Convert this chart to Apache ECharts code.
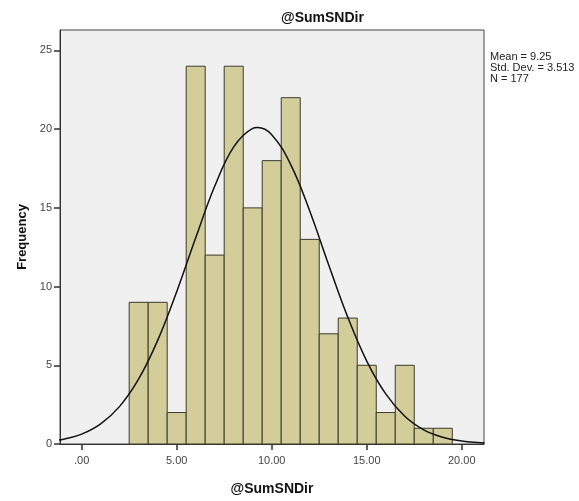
<!DOCTYPE html>
<html>
<head>
<meta charset="utf-8">
<script src="https://cdn.jsdelivr.net/npm/echarts@6/dist/echarts.min.js"></script>
<style>
  html, body { margin: 0; padding: 0; background: #fff; }
  #chart { width: 579px; height: 501px; }
</style>
</head>
<body>
<div id="chart"></div>
<script>
// histogram bins (centres) and counts
const binCenters = [3, 4, 5, 6, 7, 8, 9, 10, 11, 12, 13, 14, 15, 16, 17, 18, 19];
const counts = [9, 9, 2, 24, 12, 24, 15, 18, 22, 13, 7, 8, 5, 2, 5, 1, 1];
const binWidth = 1;

// normal curve
const curveX = [-1.2, -1, 0, 1, 2, 3, 4, 5, 6, 7, 8, 9, 9.25, 10, 11, 12, 13, 14, 15, 16, 17, 18, 19, 20, 21, 21.2];
const curveY = [0.25, 0.29, 0.63, 1.28, 2.39, 4.13, 6.58, 9.67, 13.1, 16.37, 18.87, 20.05, 20.1, 19.65, 17.75, 14.8, 11.37, 8.06, 5.27, 3.18, 1.76, 0.9, 0.43, 0.19, 0.08, 0.06];

const xTicks = [0, 5, 10, 15, 20];
const yTicks = [0, 5, 10, 15, 20, 25];
const statsLines = ["Mean = 9.25", "Std. Dev. = 3.513", "N = 177"];

const chart = echarts.init(document.getElementById("chart"));

const fontFamily = "'Liberation Sans', Arial, sans-serif";

chart.setOption({
  animation: false,
  textStyle: { fontFamily: fontFamily },
  title: {
    text: "@SumSNDir",
    left: 276,
    top: 6,
    textStyle: { fontSize: 14, fontWeight: "bold", color: "#111", fontFamily: fontFamily },
  },
  grid: {
    left: 60,
    right: 95,
    top: 30,
    bottom: 53,
    show: true,
    backgroundColor: "#f0f0f0",
    borderColor: "#444",
    borderWidth: 1,
  },
  graphic: [
    {
      type: "text",
      left: 490,
      top: 51,
      style: {
        text: statsLines.join("\n"),
        font: "11px " + fontFamily,
        lineHeight: 11,
        fill: "#222",
      },
    },
  ],
  xAxis: {
    type: "value",
    min: -1.14,
    max: 21.17,
    name: "@SumSNDir",
    nameLocation: "middle",
    nameGap: 38,
    nameTextStyle: { fontSize: 14, fontWeight: "bold", color: "#111" },
    splitLine: { show: false },
    axisLine: { onZero: false, lineStyle: { color: "#333" } },
    axisTick: {
      customValues: xTicks,
      length: 6,
      lineStyle: { color: "#333", width: 1.5 },
    },
    axisLabel: {
      customValues: xTicks,
      fontSize: 11,
      color: "#444",
      margin: 11,
      formatter: function (v) {
        return v === 0 ? ".00" : v.toFixed(2);
      },
    },
  },
  yAxis: {
    type: "value",
    min: 0,
    max: 26.3,
    interval: 5,
    name: "Frequency",
    nameLocation: "middle",
    nameGap: 31,
    nameRotate: 90,
    nameTextStyle: { fontSize: 13, fontWeight: "bold", color: "#111" },
    splitLine: { show: false },
    axisLine: { show: true, onZero: false, lineStyle: { color: "#333" } },
    axisTick: {
      show: true,
      customValues: yTicks,
      length: 6,
      lineStyle: { color: "#333", width: 1.5 },
    },
    axisLabel: { customValues: yTicks, fontSize: 11, color: "#444", margin: 8 },
  },
  series: [
    {
      type: "custom",
      data: binCenters.map((c, i) => [c, counts[i]]),
      renderItem: function (params, api) {
        const c = api.value(0);
        const topLeft = api.coord([c - binWidth / 2, api.value(1)]);
        const bottomRight = api.coord([c + binWidth / 2, 0]);
        return {
          type: "rect",
          shape: {
            x: topLeft[0],
            y: topLeft[1],
            width: bottomRight[0] - topLeft[0],
            height: bottomRight[1] - topLeft[1],
          },
          style: {
            fill: "#d3ce99",
            stroke: "#3b3a2c",
            lineWidth: 1,
          },
        };
      },
      z: 2,
    },
    {
      type: "line",
      data: curveX.map((x, i) => [x, curveY[i]]),
      smooth: 0.4,
      showSymbol: false,
      clip: true,
      lineStyle: { color: "#111", width: 1.5 },
      z: 3,
    },
  ],
});
</script>
</body>
</html>
